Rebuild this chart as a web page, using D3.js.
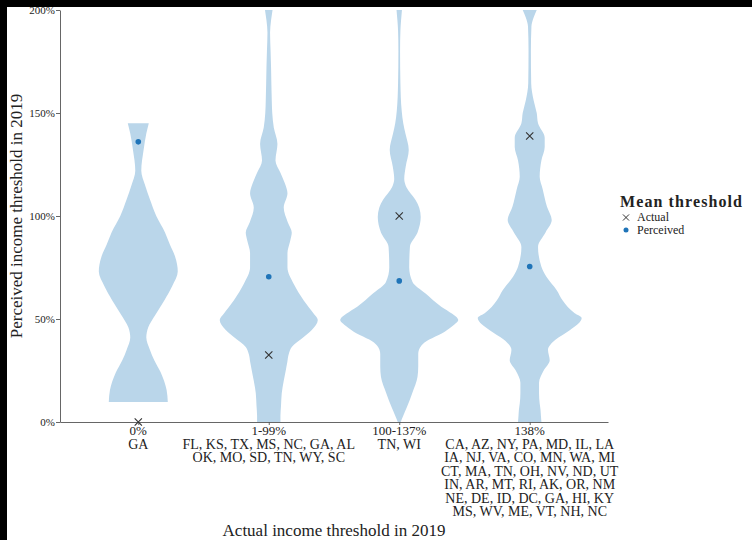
<!DOCTYPE html>
<html>
<head>
<meta charset="utf-8">
<script src="https://cdn.jsdelivr.net/npm/d3@7"></script>
<style>
  html, body { margin: 0; padding: 0; background: #fff; }
  svg { display: block; }
  text { font-family: "Liberation Serif", "Times New Roman", serif; fill: #222; }
</style>
</head>
<body>
<svg id="chart" width="752" height="540"></svg>
<script>
// Expansion-threshold groups (x categories) and the states in each group
const categories = ["0%", "1-99%", "100-137%", "138%"];
const stateLines = [
  ["GA"],
  ["FL, KS, TX, MS, NC, GA, AL", "OK, MO, SD, TN, WY, SC"],
  ["TN, WI"],
  ["CA, AZ, NY, PA, MD, IL, LA", "IA, NJ, VA, CO, MN, WA, MI",
   "CT, MA, TN, OH, NV, ND, UT", "IN, AR, MT, RI, AK, OR, NM",
   "NE, DE, ID, DC, GA, HI, KY", "MS, WV, ME, VT, NH, NC"]
];

// Mean thresholds per group (% of poverty line)
const actualMean = [0, 32.5, 100, 138.8];
const perceivedMean = [136, 70.5, 68.5, 75.5];

// Y-axis ticks (% of poverty line)
const yTicks = [0, 50, 100, 150, 200];

// Kernel density of perceived thresholds: [perceived %, relative density]
const density0 = [
  [9.7, .500], [15.5, .480], [24, .381], [30, .271], [35, .198], [41, .136],
  [46, .169], [52, .288], [59, .441], [66, .576], [73, .669], [80, .627],
  [86, .537], [92, .453], [100, .305], [108, .198], [115, .114], [122, .051],
  [132, .090], [140, .136], [145, .178]
];
const density1to99 = [
  [0, .198], [3, .198], [8, .208], [14, .220], [20, .254], [25, .288],
  [29, .314], [33, .339], [36.4, .390], [41.3, .593], [44.7, .729], [49.5, .831],
  [52.5, .763], [59, .593], [67, .424], [75, .317], [82, .317], [88, .364],
  [92, .390], [97, .322], [104, .254], [111, .317], [116, .271], [121, .198],
  [127, .114], [135, .147], [143, .085], [150, .059], [156, .051], [172, .039],
  [180, .031], [189, .022], [195, .039], [200, .064], [205, .085]
];
const density100to137 = [
  [0, .025], [3, .068], [7, .127], [14, .220], [22, .310], [27, .322],
  [33, .322], [37, .373], [40, .508], [43, .720], [46.5, .898], [49.5, 1.0],
  [52.5, .898], [56, .712], [62.5, .441], [68, .225], [75, .169], [85, .181],
  [92, .310], [99.5, .364], [104, .339], [108, .271], [114, .122], [118, .085],
  [124, .110], [132, .161], [140, .105], [145, .068], [151, .042], [164.5, .020],
  [180, .014], [190, .020], [195, .031], [200, .046], [205, .059]
];
const density138 = [
  [0, .198], [3, .190], [6, .183], [9, .169], [14, .158], [19, .158],
  [25, .237], [30, .339], [35, .310], [40, .441], [44.5, .678], [50.5, .881],
  [52.8, .763], [59, .559], [64, .458], [70.5, .283], [75.4, .198], [85, .141],
  [92, .268], [98, .373], [104.5, .293], [113, .220], [119, .169], [127, .198],
  [133.5, .254], [138, .254], [145, .141], [150, .119], [156, .068], [164.5, .025],
  [180, .020], [192, .029], [196.5, .068], [200, .119], [205, .169]
];
const densities = [density0, density1to99, density100to137, density138];

const legendTitle = "Mean threshold";
const legendItems = ["Actual", "Perceived"];

const svg = d3.select("#chart");
const W = 752, H = 540;
const plot = { left: 60, right: 608, top: 10, bottom: 422 };

const violinFill = "#bad6ea";
const dotColor = "#1f74b8";
const crossColor = "#333";
const axisColor = "#555";

const x = d3.scalePoint().domain(categories)
  .range([plot.left, plot.right]).padding(0.6);
const y = d3.scaleLinear().domain([0, 200]).range([plot.bottom, plot.top]);
const halfWidth = d3.scaleLinear().domain([0, 1]).range([0, 59]);

svg.append("rect").attr("width", W).attr("height", H).attr("fill", "#fff");

svg.append("defs").append("clipPath").attr("id", "plotClip")
  .append("rect")
  .attr("x", plot.left).attr("y", plot.top)
  .attr("width", plot.right - plot.left).attr("height", plot.bottom - plot.top);

// Violins
const gViolins = svg.append("g").attr("clip-path", "url(#plotClip)");
categories.forEach((cat, i) => {
  const cx = x(cat);
  const area = d3.area()
    .y(d => y(d[0]))
    .x0(d => cx - halfWidth(d[1]))
    .x1(d => cx + halfWidth(d[1]))
    .curve(d3.curveMonotoneY);
  gViolins.append("path")
    .datum(densities[i])
    .attr("d", area)
    .attr("fill", violinFill);
});

// Axes
const yAxis = d3.axisLeft(y).tickValues(yTicks).tickFormat(d => d + "%")
  .tickSize(4).tickSizeOuter(0);
const gy = svg.append("g").attr("transform", `translate(${plot.left},0)`).call(yAxis);
gy.select(".domain").attr("stroke", axisColor).attr("stroke-width", 0.9);
gy.selectAll(".tick line").attr("stroke", axisColor).attr("stroke-width", 0.9);
gy.selectAll(".tick text")
  .attr("x", -5)
  .style("font-family", "Liberation Serif")
  .style("font-size", "11px")
  .attr("fill", "#444");

const xAxis = d3.axisBottom(x).tickSize(3).tickSizeOuter(0).tickFormat("");
const gx = svg.append("g").attr("transform", `translate(0,${plot.bottom})`).call(xAxis);
gx.select(".domain").attr("stroke", axisColor).attr("stroke-width", 0.9);
gx.selectAll(".tick line").attr("stroke", axisColor).attr("stroke-width", 0.9);

// Category labels with the states listed underneath
const gLabels = svg.append("g");
categories.forEach((cat, i) => {
  const t = gLabels.append("text")
    .attr("x", x(cat)).attr("y", 435)
    .attr("text-anchor", "middle");
  [cat].concat(stateLines[i]).forEach((line, k) => {
    t.append("tspan")
      .attr("x", x(cat)).attr("dy", k === 0 ? 0 : 13.5)
      .style("font-size", k === 0 ? "13px" : "14px")
      .text(line);
  });
});

// Mean markers
const gMarks = svg.append("g");
const cross = d3.symbol().type(d3.symbolX).size(36);
categories.forEach((cat, i) => {
  gMarks.append("path")
    .attr("d", cross)
    .attr("transform", `translate(${x(cat)},${y(actualMean[i])})`)
    .attr("fill", "none").attr("stroke", crossColor).attr("stroke-width", 1.1);
  gMarks.append("circle")
    .attr("cx", x(cat)).attr("cy", y(perceivedMean[i])).attr("r", 2.8)
    .attr("fill", dotColor);
});

// Axis titles
svg.append("text")
  .attr("x", (plot.left + plot.right) / 2).attr("y", 536)
  .attr("text-anchor", "middle")
  .style("font-size", "17px")
  .text("Actual income threshold in 2019");
svg.append("text")
  .attr("transform", `translate(22,${(plot.top + plot.bottom) / 2}) rotate(-90)`)
  .attr("text-anchor", "middle")
  .style("font-size", "17px")
  .text("Perceived income threshold in 2019");

// Legend
const gLeg = svg.append("g");
gLeg.append("text").attr("x", 620).attr("y", 207)
  .style("font-size", "16px").style("font-weight", "bold")
  .style("letter-spacing", "1.1px")
  .text(legendTitle);
gLeg.append("path").attr("d", d3.symbol().type(d3.symbolX).size(26))
  .attr("transform", "translate(626,217.5)")
  .attr("fill", "none").attr("stroke", crossColor).attr("stroke-width", 1);
gLeg.append("circle").attr("cx", 626).attr("cy", 230).attr("r", 2.5).attr("fill", dotColor);
legendItems.forEach((lab, k) => {
  gLeg.append("text").attr("x", 637).attr("y", 221 + k * 12.5)
    .style("font-size", "12px").text(lab);
});

// Dark frame along the top and left edges
svg.append("rect").attr("x", 0).attr("y", 0).attr("width", W).attr("height", 7).attr("fill", "#000");
svg.append("rect").attr("x", 0).attr("y", 0).attr("width", 7).attr("height", H).attr("fill", "#000");
</script>
</body>
</html>
